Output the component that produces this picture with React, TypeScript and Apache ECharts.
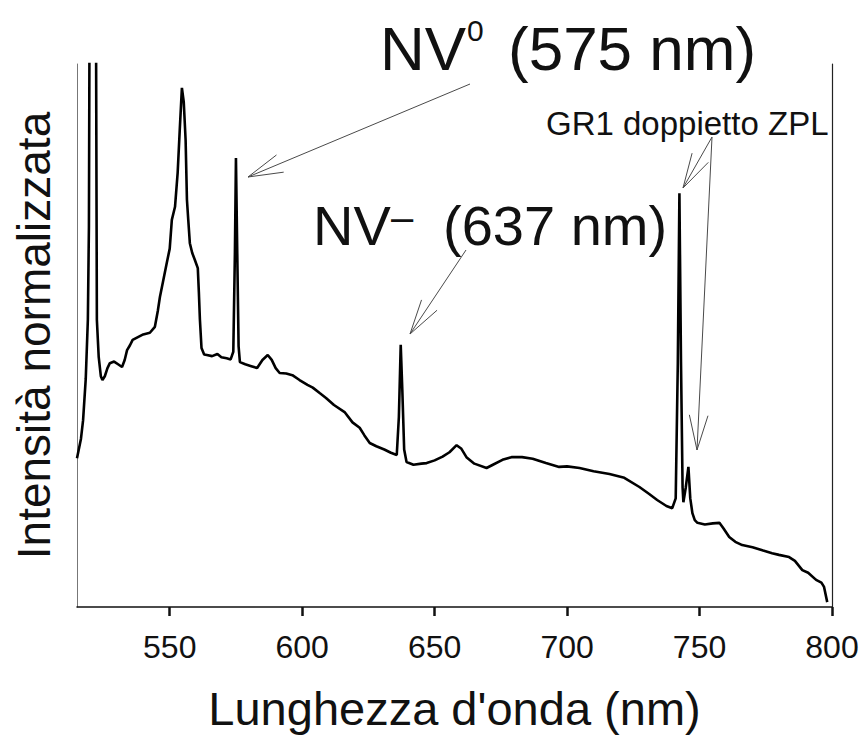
import React, { useEffect, useRef } from "react";
import * as echarts from "echarts";

// Wavelength (nm) and normalised intensity (a.u., 0..1 of plot height)
const wavelengths: number[] = [
  515.0, 516.5, 517.3, 518.3, 519.1, 519.5, 519.8, 522.1, 522.5, 523.2, 524.0, 524.6, 525.5, 526.5, 527.4,
  529.0, 530.5, 532.0, 533.0, 533.9, 535.0, 536.0, 538.0, 540.0, 542.5, 544.4, 545.5, 546.3, 547.5, 548.9,
  550.0, 550.8, 552.0, 553.0, 553.8, 554.6, 555.3, 556.0, 556.5, 557.0, 557.6, 558.5, 559.5, 560.6, 561.0,
  561.4, 562.0, 563.0, 564.0, 566.0, 568.0, 569.5, 571.5, 573.0, 574.0, 574.6, 575.0, 575.5, 576.0, 576.5,
  578.5, 580.5, 583.0, 585.0, 587.0, 588.5, 590.0, 591.5, 594.0, 596.3, 599.0, 602.0, 604.0, 606.6, 609.0,
  612.0, 616.0, 619.0, 621.7, 623.5, 625.5, 628.0, 631.0, 633.5, 635.7, 636.5, 637.2, 637.8, 638.5, 639.4,
  642.0, 645.0, 647.0, 650.0, 653.0, 655.6, 658.3, 660.0, 662.0, 665.0, 669.6, 672.0, 675.6, 679.0, 683.0,
  687.0, 692.0, 697.0, 700.0, 704.7, 710.0, 716.0, 721.6, 727.3, 731.0, 734.0, 737.5, 739.7, 741.0, 741.8,
  742.4, 743.0, 743.6, 743.9, 744.8, 745.8, 746.5, 747.3, 748.2, 749.2, 752.0, 755.0, 757.5, 759.0, 761.2,
  763.5, 766.1, 770.0, 774.0, 777.4, 780.0, 783.8, 786.0, 788.8, 791.0, 794.0, 796.0, 797.0, 798.2,
];
const intensity: number[] = [
  0.274, 0.31, 0.344, 0.42, 0.529, 0.7, 1.2, 1.2, 0.529, 0.46, 0.425, 0.418, 0.425, 0.44, 0.449,
  0.452, 0.447, 0.442, 0.455, 0.473, 0.482, 0.492, 0.497, 0.502, 0.505, 0.516, 0.545, 0.571, 0.6, 0.634,
  0.66, 0.713, 0.737, 0.8, 0.88, 0.956, 0.93, 0.86, 0.75, 0.713, 0.67, 0.652, 0.639, 0.624, 0.58,
  0.529, 0.477, 0.465, 0.464, 0.462, 0.466, 0.46, 0.458, 0.456, 0.47, 0.65, 0.827, 0.65, 0.48, 0.451,
  0.447, 0.444, 0.44, 0.455, 0.464, 0.455, 0.44, 0.431, 0.43, 0.427, 0.418, 0.409, 0.404, 0.394, 0.385,
  0.372, 0.359, 0.34, 0.33, 0.316, 0.302, 0.296, 0.29, 0.284, 0.28, 0.35, 0.483, 0.4, 0.29, 0.267,
  0.262, 0.264, 0.265, 0.27, 0.277, 0.285, 0.298, 0.292, 0.276, 0.264, 0.256, 0.262, 0.271, 0.276, 0.276,
  0.273, 0.265, 0.258, 0.259, 0.256, 0.25, 0.245, 0.238, 0.221, 0.208, 0.197, 0.186, 0.182, 0.2, 0.45,
  0.762, 0.45, 0.22, 0.193, 0.22, 0.258, 0.2, 0.173, 0.16, 0.155, 0.152, 0.154, 0.155, 0.145, 0.129,
  0.12, 0.114, 0.11, 0.104, 0.099, 0.096, 0.092, 0.085, 0.068, 0.063, 0.05, 0.045, 0.037, 0.009,
];
const xTickValues: number[] = [550, 600, 650, 700, 750, 800];

const FONT = "'Liberation Sans', Arial, sans-serif";

type Arrow = { tail: [number, number]; head: [number, number] };
const ARROWS: Arrow[] = [
  { tail: [470, 84], head: [248, 177] },
  { tail: [466, 250], head: [410, 334] },
  { tail: [712, 137], head: [683, 188] },
  { tail: [712, 137], head: [697, 450] },
];

function arrowGraphics(a: Arrow) {
  const [tx, ty] = a.tail;
  const [hx, hy] = a.head;
  const dx = tx - hx;
  const dy = ty - hy;
  const len = Math.hypot(dx, dy);
  const ux = dx / len;
  const uy = dy / len;
  const L = 36;
  const ang = (15 * Math.PI) / 180;
  const rot = (s: number) => [
    hx + L * (ux * Math.cos(s * ang) - uy * Math.sin(s * ang)),
    hy + L * (ux * Math.sin(s * ang) + uy * Math.cos(s * ang)),
  ];
  const style = { stroke: "#4a4a4a", lineWidth: 1, fill: null as any };
  return [
    { type: "line", shape: { x1: tx, y1: ty, x2: hx, y2: hy }, style },
    { type: "polyline", shape: { points: [rot(1), [hx, hy], rot(-1)] }, style },
  ];
}

export default function App() {
  const ref = useRef<HTMLDivElement>(null);
  useEffect(() => {
    if (!ref.current) return;
    const chart = echarts.init(ref.current, undefined, { renderer: "svg" });
    const data = wavelengths.map((w, i) => [w, intensity[i]]);
    const textStyle = (text: string, x: number, y: number, size: number, align = "left") => ({
      type: "text",
      x,
      y,
      style: { text, fontSize: size, fontFamily: FONT, fill: "#111", align, verticalAlign: "middle" },
    });
    chart.setOption({
      animation: false,
      backgroundColor: "#ffffff",
      grid: { left: 77, right: 32, top: 64, bottom: 136 },
      xAxis: {
        type: "value",
        min: 515,
        max: 800,
        name: "Lunghezza d'onda (nm)",
        nameLocation: "middle",
        nameGap: 78,
        nameTextStyle: { fontSize: 47, fontFamily: FONT, color: "#111" },
        axisLine: { show: true, onZero: false, lineStyle: { color: "#111", width: 1.5 } },
        axisTick: { show: true, inside: false, length: 9, customValues: xTickValues, lineStyle: { color: "#111", width: 2.5 } },
        axisLabel: { customValues: xTickValues, margin: 24, fontSize: 32, fontFamily: FONT, color: "#111" },
        splitLine: { show: false },
      },
      yAxis: [
        {
          type: "value",
          min: 0,
          max: 1,
          position: "left",
          name: "Intensità normalizzata",
          nameLocation: "middle",
          nameGap: 20,
          nameTextStyle: { fontSize: 46, fontFamily: FONT, color: "#111" },
          axisLine: { show: true, onZero: false, lineStyle: { color: "#777", width: 1 } },
          axisTick: { show: false },
          axisLabel: { show: false },
          splitLine: { show: false },
        },
        {
          type: "value",
          min: 0,
          max: 1,
          position: "right",
          axisLine: { show: true, onZero: false, lineStyle: { color: "#222", width: 1.2 } },
          axisTick: { show: false },
          axisLabel: { show: false },
          splitLine: { show: false },
        },
      ],
      series: [
        {
          type: "line",
          data,
          showSymbol: false,
          symbol: "none",
          clip: true,
          lineStyle: { color: "#000", width: 2.6 },
        },
      ],
      graphic: [
        textStyle("NV", 380, 48, 62),
        textStyle("0", 467, 30, 30),
        textStyle("(575 nm)", 508, 48, 62),
        textStyle("NV", 313, 225, 56),
        textStyle("–", 391, 217, 40),
        textStyle("(637 nm)", 443, 225, 56),
        textStyle("GR1 doppietto ZPL", 546, 123, 33),
        ...ARROWS.flatMap(arrowGraphics),
      ],
    });
    return () => chart.dispose();
  }, []);
  return (
    <div
      ref={ref}
      style={{ position: "fixed", left: 0, top: 0, width: 864, height: 743, background: "#fff" }}
    />
  );
}
